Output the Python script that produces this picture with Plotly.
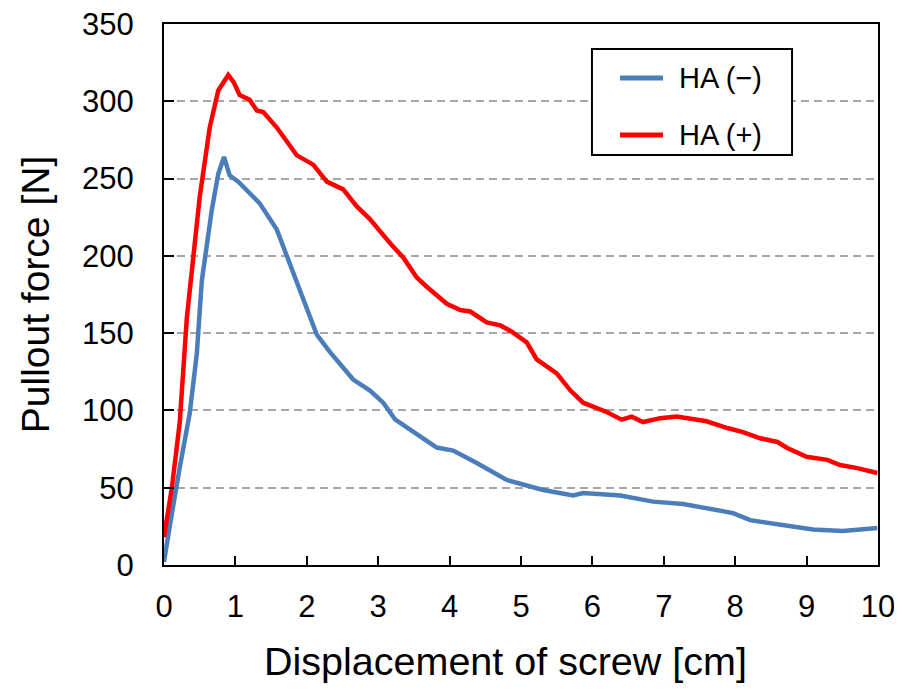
import plotly.graph_objects as go

# HA (-) series
blue_x = [0.0, 0.01, 0.08, 0.22, 0.36, 0.46, 0.5, 0.53, 0.67, 0.76, 0.84, 0.92, 1.04, 1.2, 1.34, 1.58, 1.76, 2.0, 2.14,
          2.32, 2.65, 2.88, 3.07, 3.24, 3.54, 3.82, 4.05, 4.38, 4.8, 5.03, 5.31, 5.73, 5.87, 6.39,
          6.85, 7.27, 7.74, 7.97, 8.21, 8.53, 9.09, 9.51, 9.99]
blue_y = [2, 5, 25, 63, 98, 137, 166, 184, 230, 253, 264, 252, 248, 240, 234, 217, 195, 167, 149,
          138, 120, 113, 105, 94, 85, 76, 74, 66, 55, 52, 48.5, 45, 46.5, 45,
          41, 39.5, 35.6, 33.6, 29, 27, 23, 22, 24]

# HA (+) series
red_x = [0.0, 0.06, 0.11, 0.22, 0.32, 0.5, 0.64, 0.76, 0.9, 0.98, 1.06, 1.2, 1.3, 1.39, 1.58, 1.86, 2.09, 2.28,
         2.51, 2.7, 2.88, 3.17, 3.35, 3.54, 3.68, 3.96, 4.15, 4.29, 4.52, 4.71, 4.87, 5.08, 5.22,
         5.5, 5.69, 5.87, 6.2, 6.41, 6.55, 6.71, 6.95, 7.18, 7.41, 7.6, 7.89, 8.11, 8.35, 8.59,
         8.73, 9.0, 9.29, 9.47, 9.71, 9.99]
red_y = [18, 34, 50, 92, 160, 238, 283, 307, 317, 312, 304, 301, 294, 293, 283, 265, 259, 248,
         243, 232, 224, 208, 199, 186, 180, 169, 165, 164, 157, 155, 151, 144, 133,
         124, 113, 105, 99, 94, 96, 92.5, 95, 96, 94, 93, 88.6, 86, 82, 79.6,
         75.7, 70, 68, 64.7, 62.7, 59.5]

series_names = ["HA (−)", "HA (+)"]
series_colors = ["#4a7ebb", "#ff0000"]

x_ticks = [0, 1, 2, 3, 4, 5, 6, 7, 8, 9, 10]
y_ticks = [0, 50, 100, 150, 200, 250, 300, 350]

FONT = "Liberation Sans, Arial, sans-serif"

fig = go.Figure()
fig.add_trace(go.Scatter(x=blue_x, y=blue_y, mode="lines", name=series_names[0],
                         line=dict(color=series_colors[0], width=4.5), showlegend=False))
fig.add_trace(go.Scatter(x=red_x, y=red_y, mode="lines", name=series_names[1],
                         line=dict(color=series_colors[1], width=4.5), showlegend=False))

# legend box drawn in paper coordinates
shapes = [dict(type="rect", xref="paper", yref="paper", x0=0.5994, x1=0.8796, y0=0.7579, y1=0.9538,
               line=dict(color="black", width=2), fillcolor="white", layer="above")]
annotations = []
legend_rows = [0.9002, 0.7948]
for name, color, yy in zip(series_names, series_colors, legend_rows):
    shapes.append(dict(type="line", xref="paper", yref="paper", x0=0.6387, x1=0.6989, y0=yy, y1=yy,
                       line=dict(color=color, width=5), layer="above"))
    annotations.append(dict(text=name, xref="paper", yref="paper", x=0.7185, y=yy,
                            xanchor="left", yanchor="middle", showarrow=False,
                            font=dict(size=29, color="black")))

# x-axis title
annotations.append(dict(text="Displacement of screw [cm]", xref="paper", yref="paper",
                        x=0.478, y=-0.178, xanchor="center", yanchor="middle", showarrow=False,
                        font=dict(size=39.5, color="black")))

fig.update_layout(
    width=902, height=690,
    margin=dict(l=156, r=32, t=16, b=133, autoexpand=False),
    paper_bgcolor="white", plot_bgcolor="white",
    font=dict(family=FONT, size=31, color="black"),
    showlegend=False,
    shapes=shapes, annotations=annotations,
    xaxis=dict(range=[0, 10], tickvals=x_ticks, ticks="inside", ticklen=9, tickwidth=2,
               tickcolor="black", showline=True, linecolor="black", linewidth=2, mirror=True,
               showgrid=False, zeroline=False, tickfont=dict(size=31), ticklabelstandoff=13,
               ticklabeloverflow="allow", automargin=False),
    yaxis=dict(range=[0, 350], tickvals=y_ticks, ticks="inside", ticklen=10, tickwidth=2,
               tickcolor="black", showline=True, linecolor="black", linewidth=2, mirror=True,
               showgrid=True, gridcolor="#a6a6a6", griddash="8px,5px", gridwidth=1.5,
               zeroline=False, tickfont=dict(size=31), ticklabelstandoff=22,
               ticklabeloverflow="allow", automargin=False,
               title=dict(text="Pullout force [N]", font=dict(size=39), standoff=20)),
)

fig.write_html("out.html")
